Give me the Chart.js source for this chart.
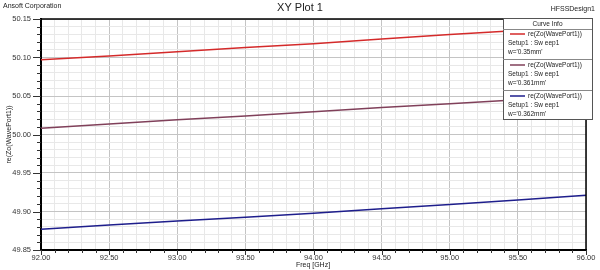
<!DOCTYPE html>
<html><head><meta charset="utf-8">
<script src="https://cdn.jsdelivr.net/npm/chart.js@4/dist/chart.umd.min.js"></script>
<style>html,body{margin:0;padding:0;background:#fff}#wrap{width:600px;height:270px}</style>
</head><body><div id="wrap"><canvas id="c" width="600" height="270"></canvas></div>
<script>
const freqs = [92.0, 92.5, 93.0, 93.5, 94.0, 94.5, 95.0, 95.5, 96.0];
const w035 = [50.097, 50.102, 50.1075, 50.113, 50.118, 50.124, 50.130, 50.135, 50.140];
const w0361 = [50.008, 50.0135, 50.019, 50.024, 50.0295, 50.035, 50.040, 50.045, 50.050];
const w0362 = [49.877, 49.8825, 49.8877, 49.8925, 49.8977, 49.9036, 49.909, 49.915, 49.921];
const seriesNames = ["re(Zo(WavePort1))", "re(Zo(WavePort1))", "re(Zo(WavePort1))"];
const setups = ["Setup1 : Sw eep1", "Setup1 : Sw eep1", "Setup1 : Sw eep1"];
const params = ["w='0.35mm'", "w='0.361mm'", "w='0.362mm'"];
const colors = ["#d42a2a", "#80405a", "#1e1e8c"];

const FONT = "'Liberation Sans', Arial, sans-serif";
const isMajor = (v, step) => Math.abs(v / step - Math.round(v / step)) < 1e-6;

const pts = arr => freqs.map((f, i) => ({x: f, y: arr[i]}));

const deco = {
  id: 'deco',
  afterDraw(chart) {
    const ctx = chart.ctx, a = chart.chartArea;
    const xs = chart.scales.x, ys = chart.scales.y;
    ctx.save();
    // frame top/right
    ctx.strokeStyle = '#000'; ctx.lineWidth = 1.5;
    ctx.beginPath();
    ctx.moveTo(a.left, a.top); ctx.lineTo(a.right, a.top); ctx.lineTo(a.right, a.bottom);
    ctx.stroke();
    // tick marks
    ctx.lineWidth = 1; ctx.strokeStyle = '#333';
    ys.ticks.forEach(t => {
      const y = Math.round(ys.getPixelForValue(t.value)) + 0.5;
      const L = isMajor(t.value, 0.05) ? 8 : 4;
      ctx.beginPath(); ctx.moveTo(a.left - L, y); ctx.lineTo(a.left, y); ctx.stroke();
    });
    xs.ticks.forEach(t => {
      const x = Math.round(xs.getPixelForValue(t.value)) + 0.5;
      const L = isMajor(t.value, 0.5) ? 5 : 3;
      ctx.beginPath(); ctx.moveTo(x, a.bottom); ctx.lineTo(x, a.bottom + L); ctx.stroke();
    });
    // texts
    ctx.fillStyle = '#222';
    ctx.textBaseline = 'middle';
    ctx.font = '7px ' + FONT; ctx.textAlign = 'left';
    ctx.fillText('Ansoft Corporation', 3, 6);
    ctx.textAlign = 'right';
    ctx.fillText('HFSSDesign1', 595, 9);
    ctx.font = '11px ' + FONT; ctx.textAlign = 'center';
    ctx.fillText('XY Plot 1', 300, 8);
    ctx.font = '7px ' + FONT;
    ctx.fillText('Freq [GHz]', 313, 265);
    ctx.save();
    ctx.translate(9, (a.top + a.bottom) / 2); ctx.rotate(-Math.PI / 2);
    ctx.fillText('re(Zo(WavePort1))', 0, 0);
    ctx.restore();
    // legend box
    const bx = 503, by = 18, bw = 89, bh = 101;
    ctx.fillStyle = '#fff'; ctx.fillRect(bx, by, bw, bh);
    ctx.strokeStyle = '#555'; ctx.lineWidth = 1;
    ctx.strokeRect(bx + 0.5, by + 0.5, bw, bh);
    ctx.fillStyle = '#222'; ctx.font = '6.5px ' + FONT; ctx.textAlign = 'center';
    ctx.fillText('Curve Info', bx + bw / 2, 24.5);
    ctx.strokeStyle = '#888';
    ctx.beginPath(); ctx.moveTo(bx, 29.5); ctx.lineTo(bx + bw, 29.5); ctx.stroke();
    const starts = [34, 65, 96];
    starts.forEach((y0, i) => {
      if (i > 0) {
        ctx.strokeStyle = '#888'; ctx.lineWidth = 1;
        ctx.beginPath(); ctx.moveTo(bx, y0 - 5.5); ctx.lineTo(bx + bw, y0 - 5.5); ctx.stroke();
      }
      ctx.strokeStyle = colors[i]; ctx.lineWidth = 1.5;
      ctx.beginPath(); ctx.moveTo(510, y0); ctx.lineTo(525, y0); ctx.stroke();
      ctx.fillStyle = '#222'; ctx.textAlign = 'left';
      ctx.fillText(seriesNames[i], 528, y0);
      ctx.fillText(setups[i], 508, y0 + 9);
      ctx.fillText(params[i], 508, y0 + 18);
    });
    ctx.restore();
  }
};

new Chart(document.getElementById('c'), {
  type: 'line',
  data: {
    datasets: [
      {data: pts(w035), borderColor: colors[0]},
      {data: pts(w0361), borderColor: colors[1]},
      {data: pts(w0362), borderColor: colors[2]}
    ].map(d => Object.assign(d, {borderWidth: 1.5, pointRadius: 0, tension: 0, fill: false}))
  },
  options: {
    responsive: false, animation: false, devicePixelRatio: 1,
    layout: {padding: {top: 19, right: 14, left: 0, bottom: 0}},
    plugins: {legend: {display: false}, tooltip: {enabled: false}, title: {display: false}},
    scales: {
      x: {
        type: 'linear', min: 92, max: 96,
        afterFit: s => { s.height = 20; },
        afterBuildTicks: s => { const t = []; for (let i = 0; i <= 40; i++) t.push({value: +(92 + i * 0.1).toFixed(2)}); s.ticks = t; },
        border: {display: true, color: '#000', width: 2},
        grid: {drawTicks: false, lineWidth: 1,
          color: c => (c.tick && isMajor(c.tick.value, 0.5)) ? '#c4c4c4' : '#e8e8e8'},
        ticks: {autoSkip: false, maxRotation: 0, padding: 3, color: '#333',
          font: {family: FONT, size: 7.5},
          callback: v => isMajor(v, 0.5) ? v.toFixed(2) : ''}
      },
      y: {
        type: 'linear', min: 49.85, max: 50.15,
        afterFit: s => { s.width = 41; },
        afterBuildTicks: s => { const t = []; for (let i = 0; i <= 30; i++) t.push({value: +(49.85 + i * 0.01).toFixed(2)}); s.ticks = t; },
        border: {display: true, color: '#000', width: 2},
        grid: {drawTicks: false, lineWidth: 1,
          color: c => (c.tick && isMajor(c.tick.value, 0.05)) ? '#c4c4c4' : '#e8e8e8'},
        ticks: {autoSkip: false, padding: 10, color: '#333',
          font: {family: FONT, size: 7.5},
          callback: v => isMajor(v, 0.05) ? v.toFixed(2) : ''}
      }
    }
  },
  plugins: [deco]
});
</script></body></html>
